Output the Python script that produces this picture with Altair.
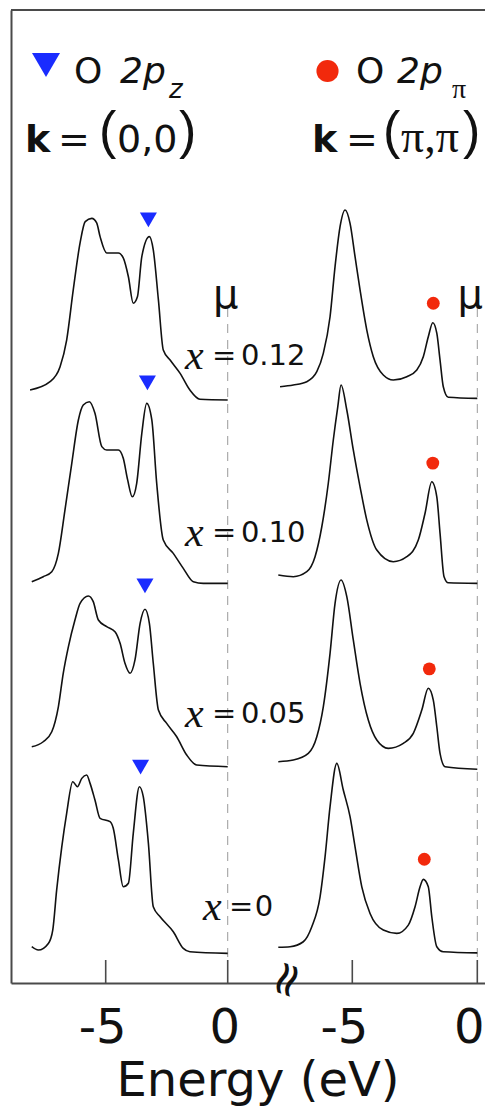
import altair as alt
import pandas as pd

# ---------------- data ----------------
dopings = ["0.12", "0.10", "0.05", "0"]
offsets = [3, 2, 1, 0]

# Left panel: O 2p_z at k = (0,0)
pz012_E = [-8.10, -7.28, -6.87, -6.60, -6.33, -6.05, -5.84, -5.57, -5.37, -5.23, -4.96, -4.48, -4.28,
           -4.07, -3.87, -3.70, -3.52, -3.21, -3.05, -2.84, -2.64, -2.36, -1.95, -1.55, -1.14, 0.0]
pz012_I = [0.054, 0.099, 0.18, 0.324, 0.595, 0.849, 0.964, 0.982, 0.957, 0.883, 0.795, 0.795, 0.768,
           0.666, 0.523, 0.558, 0.775, 0.883, 0.811, 0.541, 0.27, 0.216, 0.144, 0.054, 0.004, 0.0]

pz010_E = [-8.03, -7.56, -7.21, -6.94, -6.67, -6.39, -6.12, -5.92, -5.67, -5.44, -5.16, -4.96, -4.48,
           -4.28, -4.10, -3.91, -3.73, -3.52, -3.32, -3.11, -2.91, -2.64, -2.23, -1.82, -1.41, -1.00, 0.0]
pz010_I = [0.018, 0.045, 0.072, 0.171, 0.405, 0.658, 0.892, 0.973, 0.991, 0.928, 0.748, 0.73, 0.73,
           0.685, 0.568, 0.477, 0.55, 0.82, 0.982, 0.892, 0.55, 0.243, 0.171, 0.09, 0.018, 0.009, 0.009]

pz005_E = [-8.03, -7.56, -7.21, -6.94, -6.74, -6.53, -6.26, -6.05, -5.71, -5.51, -5.30, -4.96, -4.62,
           -4.41, -4.21, -4.00, -3.80, -3.59, -3.39, -3.21, -3.05, -2.84, -2.50, -2.09, -1.68, -1.27, 0.0]
pz005_I = [0.126, 0.153, 0.207, 0.342, 0.523, 0.666, 0.811, 0.901, 0.941, 0.91, 0.811, 0.775, 0.748,
           0.685, 0.577, 0.523, 0.595, 0.793, 0.869, 0.793, 0.577, 0.324, 0.252, 0.18, 0.081, 0.027, 0.018]

pz000_E = [-8.03, -7.76, -7.35, -7.17, -7.01, -6.80, -6.60, -6.35, -6.16, -5.98, -5.78, -5.64, -5.44,
           -5.23, -4.82, -4.69, -4.48, -4.28, -4.07, -3.87, -3.62, -3.46, -3.25, -3.05, -2.77, -2.23,
           -1.82, -1.55, 0.0]
pz000_I = [0.045, 0.027, 0.063, 0.135, 0.351, 0.585, 0.766, 0.937, 0.91, 0.955, 0.973, 0.928, 0.838,
           0.739, 0.721, 0.685, 0.514, 0.369, 0.388, 0.658, 0.91, 0.856, 0.604, 0.261, 0.207, 0.126,
           0.036, 0.018, 0.009]

# Right panel: O 2p_pi at k = (pi,pi)
pp012_E = [-7.89, -7.36, -6.82, -6.42, -6.16, -5.89, -5.69, -5.49, -5.29, -5.09, -4.89, -4.69, -4.42,
           -4.16, -3.76, -3.36, -2.82, -2.42, -2.16, -1.96, -1.78, -1.62, -1.49, -1.36, -1.16, 0.0]
pp012_I = [0.072, 0.081, 0.099, 0.153, 0.252, 0.45, 0.721, 0.937, 1.027, 0.955, 0.775, 0.595, 0.378,
           0.234, 0.135, 0.108, 0.126, 0.162, 0.234, 0.342, 0.418, 0.361, 0.216, 0.072, 0.015, 0.009]

pp010_E = [-7.96, -7.36, -6.82, -6.49, -6.22, -5.96, -5.76, -5.58, -5.45, -5.22, -4.96, -4.69, -4.42,
           -4.02, -3.36, -2.82, -2.36, -2.09, -1.82, -1.62, -1.49, -1.33, -1.16, 0.0]
pp010_I = [0.054, 0.045, 0.072, 0.153, 0.315, 0.55, 0.784, 0.964, 1.081, 0.946, 0.73, 0.531, 0.351,
           0.189, 0.126, 0.153, 0.243, 0.388, 0.558, 0.477, 0.279, 0.045, 0.012, 0.009]

pp005_E = [-7.96, -7.36, -6.76, -6.42, -6.16, -5.89, -5.69, -5.45, -5.22, -4.96, -4.69, -4.36, -4.02,
           -3.56, -2.96, -2.56, -2.22, -1.96, -1.76, -1.62, -1.49, -1.29, 0.0]
pp005_I = [0.045, 0.054, 0.09, 0.18, 0.342, 0.631, 0.901, 1.027, 0.937, 0.703, 0.469, 0.27, 0.162,
           0.117, 0.144, 0.198, 0.324, 0.442, 0.378, 0.234, 0.09, 0.018, 0.004]

pp000_E = [-7.96, -7.49, -6.96, -6.62, -6.29, -6.09, -5.89, -5.62, -5.36, -5.09, -4.89, -4.62, -4.29,
           -3.76, -3.22, -2.76, -2.49, -2.29, -2.16, -1.96, -1.82, -1.62, -1.36, 0.0]
pp000_I = [0.042, 0.045, 0.072, 0.153, 0.315, 0.531, 0.802, 1.036, 0.892, 0.748, 0.585, 0.369, 0.225,
           0.135, 0.117, 0.162, 0.261, 0.369, 0.409, 0.369, 0.207, 0.045, 0.018, 0.012]

# peak markers (order follows dopings)
tri_E = [-3.25, -3.29, -3.39, -3.57]
tri_I = [0.973, 1.092, 0.995, 1.016]
circ_E = [-1.76, -1.78, -1.92, -2.12]
circ_I = [0.523, 0.659, 0.547, 0.518]

tick_values = [-5, 0]
tick_labels = ["-5", "0"]

# ---------------- styles / layout ----------------
FRAME = "#4a4a4a"
BLUE = "#1a2cff"
RED = "#f2290c"
SANS = "DejaVu Sans"
W, H = 474, 973
LEFT_DOMAIN, LEFT_RANGE = [-8.881, 2.471], [0, 277]
RIGHT_DOMAIN, RIGHT_RANGE = [-7.572, 0.308], [277, 474]
Y_DOMAIN = [-0.151, 5.108]

# label anchors for the doping annotations (left-panel energy units, stacked units)
lab_x_E = [-1.75, -1.75, -1.75, -1.01]
lab_eq_E = [-0.64, -0.64, -0.64, 0.05]
lab_num_E = [0.54, 0.54, 0.54, 1.11]
lab_val = [3.238, 2.281, 1.303, 0.259]


def traces(Es_list, Is_list):
    frames = []
    for Es, Is, d, off in zip(Es_list, Is_list, dopings, offsets):
        frames.append(pd.DataFrame({"E": Es, "I": Is, "doping": d,
                                    "val": [i + off for i in Is]}))
    return pd.concat(frames, ignore_index=True)


left_df = traces([pz012_E, pz010_E, pz005_E, pz000_E], [pz012_I, pz010_I, pz005_I, pz000_I])
right_df = traces([pp012_E, pp010_E, pp005_E, pp000_E], [pp012_I, pp010_I, pp005_I, pp000_I])
tri_df = pd.DataFrame({"E": tri_E, "val": [i + o for i, o in zip(tri_I, offsets)]})
circ_df = pd.DataFrame({"E": circ_E, "val": [i + o for i, o in zip(circ_I, offsets)]})
tick_df = pd.DataFrame({"E": tick_values, "label": tick_labels})
zero_df = pd.DataFrame({"E": [0.0], "val": [3.56], "t": ["μ"]})
lab_df = pd.DataFrame({"xE": lab_x_E, "eqE": lab_eq_E, "numE": lab_num_E,
                       "val": lab_val, "num": dopings})
one = pd.DataFrame({"a": [0]})


def xenc(domain, rng, field="E"):
    return alt.X(f"{field}:Q",
                 scale=alt.Scale(domain=domain, range=rng, nice=False, zero=False),
                 axis=alt.Axis(orient="bottom", domain=True, domainColor=FRAME, domainWidth=2,
                               ticks=False, labels=False, grid=False, title=None))


yenc = alt.Y("val:Q", scale=alt.Scale(domain=Y_DOMAIN, nice=False, zero=False),
             axis=alt.Axis(orient="left", domain=True, domainColor=FRAME, domainWidth=2,
                           ticks=False, labels=False, grid=False, title=None))


def panel(df, markers, domain, rng, marker_kw, with_labels, mu_dx, tick_dx):
    X = xenc(domain, rng)
    layers = [
        alt.Chart(pd.DataFrame({"E": [0.0]})).mark_rule(
            color="#9a9a9a", strokeDash=[9, 7], strokeWidth=1).encode(
            x=X, y=alt.value(298), y2=alt.value(950)),
        alt.Chart(df).mark_line(color="#111111", strokeWidth=1.6, interpolate="monotone").encode(
            x=X, y=yenc, detail="doping:N"),
        alt.Chart(markers).mark_point(filled=True, opacity=1, **marker_kw).encode(x=X, y=yenc),
        alt.Chart(zero_df).mark_text(font=SANS, fontSize=40, align="center", dx=mu_dx,
                                     color="#111").encode(x=X, y=yenc, text="t:N"),
        alt.Chart(tick_df).mark_rule(color=FRAME, strokeWidth=1.6).encode(
            x=X, y=alt.value(H), y2=alt.value(H - 23)),
        alt.Chart(tick_df).mark_text(font=SANS, fontSize=48, align="center", dx=tick_dx,
                                     color="#111").encode(x=X, y=alt.value(1019), text="label:N"),
    ]
    if with_labels:
        layers += [
            alt.Chart(lab_df).mark_text(font="Liberation Serif", fontStyle="italic", fontSize=42,
                                        align="left", color="#111").encode(
                x=xenc(domain, rng, "xE"), y=yenc, text=alt.value("x")),
            alt.Chart(lab_df).mark_text(font=SANS, fontSize=29, align="left", color="#111").encode(
                x=xenc(domain, rng, "eqE"), y=yenc, text=alt.value("=")),
            alt.Chart(lab_df).mark_text(font=SANS, fontSize=29, align="left", color="#111").encode(
                x=xenc(domain, rng, "numE"), y=yenc, text="num:N"),
        ]
    return alt.layer(*layers)


left = panel(left_df, tri_df, LEFT_DOMAIN, LEFT_RANGE,
             dict(shape="triangle-down", size=290, color=BLUE), True, -2, -3)
right = panel(right_df, circ_df, RIGHT_DOMAIN, RIGHT_RANGE,
              dict(shape="circle", size=165, color=RED), False, -7, -8)


def txt(s, x, y, size, font=SANS, weight="normal", style="normal", align="left", angle=0,
        baseline="alphabetic"):
    return alt.Chart(one).mark_text(font=font, fontSize=size, fontWeight=weight, fontStyle=style,
                                    align=align, baseline=baseline, angle=angle,
                                    color="#111").encode(
        x=alt.value(x), y=alt.value(y), text=alt.value(s))


deco = [
    alt.Chart(one).mark_rule(color=FRAME, strokeWidth=2).encode(
        x=alt.value(0), x2=alt.value(W), y=alt.value(0)),
    # left header
    alt.Chart(one).mark_point(shape="triangle-down", filled=True, opacity=1, size=784,
                              color=BLUE).encode(x=alt.value(35), y=alt.value(55)),
    txt("O", 63, 73, 36),
    txt("2p", 109, 73, 36, style="italic"),
    txt("z", 158, 88, 26, style="italic"),
    txt("k", 14, 142, 38, weight="bold"),
    txt("=", 47, 142, 38),
    txt("(", 88, 138, 52, font="Liberation Sans"),
    txt("0,0", 106, 142, 38),
    txt(")", 168, 138, 52, font="Liberation Sans"),
    # right header
    alt.Chart(one).mark_point(shape="circle", filled=True, opacity=1, size=491,
                              color=RED).encode(x=alt.value(316.5), y=alt.value(61)),
    txt("O", 345, 73, 36),
    txt("2p", 386, 73, 36, style="italic"),
    txt("π", 441, 88, 28, font="Liberation Serif"),
    txt("k", 301, 142, 38, weight="bold"),
    txt("=", 335, 142, 38),
    txt("(", 372, 138, 52, font="Liberation Sans"),
    txt("π,π", 390, 142, 46, font="Liberation Serif"),
    txt(")", 452, 138, 52, font="Liberation Sans"),
    # axis break and title
    txt("≈", 277, 970, 48, align="center", angle=290, baseline="middle"),
    txt("Energy (eV)", 247, 1086, 48, align="center"),
]

chart = alt.layer(left, right, *deco).resolve_scale(x="independent").properties(
    width=W, height=H,
    autosize=alt.AutoSizeParams(type="none"),
    padding={"left": 3, "top": 2, "right": 0, "bottom": 124},
).configure_view(stroke=None)

chart.save("out.html", embed_options={"renderer": "svg", "actions": False})
